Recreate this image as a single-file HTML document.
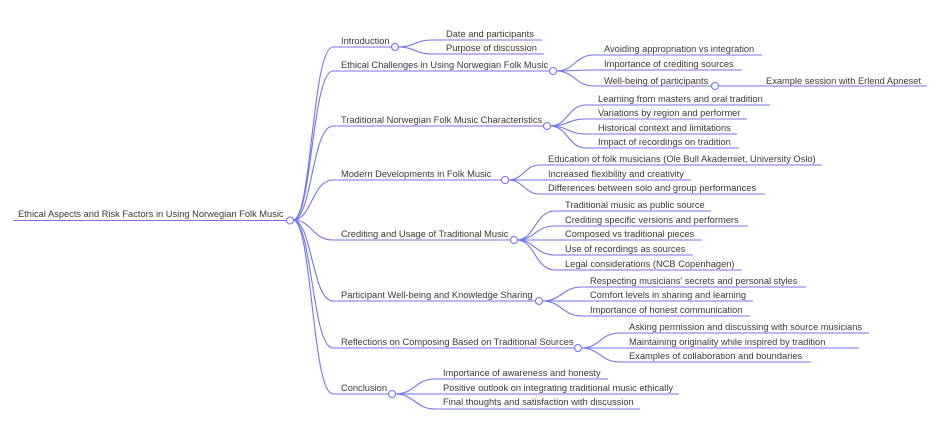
<!DOCTYPE html>
<html><head><meta charset="utf-8"><style>
html,body{margin:0;padding:0;background:#fff;}
svg{display:block;}
text{font-family:"Liberation Sans",Helvetica,Arial,sans-serif;font-size:9.3px;fill:#3a3a3a;}
path,line{stroke:#7373f2;stroke-width:1.1;fill:none;}
circle{stroke:#7373f2;stroke-width:1.1;fill:#fff;}
</style></head><body>
<svg width="941" height="443" viewBox="0 0 941 443" xmlns="http://www.w3.org/2000/svg">
<line x1="13" y1="220.5" x2="287" y2="220.5"/>
<text x="18" y="217">Ethical Aspects and Risk Factors in Using Norwegian Folk Music</text>
<path d="M293 220 C312 220 312 47 333 47 H395"/>
<path d="M293 220 C312 220 312 71 333 71 H553"/>
<path d="M293 220 C312 220 312 126 333 126 H547"/>
<path d="M293 220 C312 220 312 180 333 180 H505"/>
<path d="M293 220 C312 220 312 240 333 240 H514"/>
<path d="M293 220 C312 220 312 301 333 301 H539"/>
<path d="M293 220 C312 220 312 348 333 348 H578"/>
<path d="M293 220 C312 220 312 394 333 394 H392"/>
<circle cx="290" cy="220.5" r="3.5"/>
<text x="341" y="44">Introduction</text>
<text x="341" y="68">Ethical Challenges in Using Norwegian Folk Music</text>
<text x="341" y="123">Traditional Norwegian Folk Music Characteristics</text>
<text x="341" y="177">Modern Developments in Folk Music</text>
<text x="341" y="237">Crediting and Usage of Traditional Music</text>
<text x="341" y="298">Participant Well-being and Knowledge Sharing</text>
<text x="341" y="345">Reflections on Composing Based on Traditional Sources</text>
<text x="341" y="391">Conclusion</text>
<path d="M398 47 C415 47 415 40 432 40 H542"/>
<path d="M398 47 C415 47 415 54 432 54 H544"/>
<text x="446" y="37">Date and participants</text>
<text x="446" y="51">Purpose of discussion</text>
<circle cx="395" cy="47" r="3.5"/>
<path d="M556 71 C575 71 575 55 594 55 H762"/>
<path d="M556 71 C575 71 575 70 594 70 H742"/>
<path d="M556 71 C575 71 575 86 594 86 H712"/>
<path d="M718 86 H927"/>
<text x="604" y="52">Avoiding appropriation vs integration</text>
<text x="604" y="67">Importance of crediting sources</text>
<text x="604" y="84">Well-being of participants</text>
<text x="766" y="84">Example session with Erlend Apneset</text>
<circle cx="553" cy="71" r="3.5"/>
<circle cx="715" cy="86" r="3.5"/>
<path d="M550 126 C568 126 568 105 586 105 H770"/>
<path d="M550 126 C568 126 568 119 586 119 H747"/>
<path d="M550 126 C568 126 568 134 586 134 H737"/>
<path d="M550 126 C568 126 568 148 586 148 H739"/>
<text x="598" y="102">Learning from masters and oral tradition</text>
<text x="598" y="116">Variations by region and performer</text>
<text x="598" y="131">Historical context and limitations</text>
<text x="598" y="145">Impact of recordings on tradition</text>
<circle cx="547" cy="126" r="3.5"/>
<path d="M508 180 C524 180 524 165 540 165 H822"/>
<path d="M508 180 H691"/>
<path d="M508 180 C524 180 524 194 540 194 H765"/>
<text x="548" y="162">Education of folk musicians (Ole Bull Akademiet, University Oslo)</text>
<text x="548" y="177">Increased flexibility and creativity</text>
<text x="548" y="191">Differences between solo and group performances</text>
<circle cx="505" cy="180" r="3.5"/>
<path d="M517 240 C535 240 535 211 555 211 H711"/>
<path d="M517 240 C535 240 535 226 555 226 H748"/>
<path d="M517 240 H702"/>
<path d="M517 240 C535 240 535 255 555 255 H693"/>
<path d="M517 240 C535 240 535 270 555 270 H742"/>
<text x="565" y="208">Traditional music as public source</text>
<text x="565" y="223">Crediting specific versions and performers</text>
<text x="565" y="237">Composed vs traditional pieces</text>
<text x="565" y="252">Use of recordings as sources</text>
<text x="565" y="267">Legal considerations (NCB Copenhagen)</text>
<circle cx="514" cy="240" r="3.5"/>
<path d="M542 301 C562 301 562 287 582 287 H806"/>
<path d="M542 301 H753"/>
<path d="M542 301 C562 301 562 316 582 316 H750"/>
<text x="590" y="284">Respecting musicians' secrets and personal styles</text>
<text x="590" y="298">Comfort levels in sharing and learning</text>
<text x="590" y="313">Importance of honest communication</text>
<circle cx="539" cy="301" r="3.5"/>
<path d="M581 348 C600 348 600 333 620 333 H869"/>
<path d="M581 348 H859"/>
<path d="M581 348 C600 348 600 362 620 362 H811"/>
<text x="629" y="330">Asking permission and discussing with source musicians</text>
<text x="629" y="345">Maintaining originality while inspired by tradition</text>
<text x="629" y="359">Examples of collaboration and boundaries</text>
<circle cx="578" cy="348" r="3.5"/>
<path d="M395 394 C415 394 415 379 435 379 H608"/>
<path d="M395 394 H679"/>
<path d="M395 394 C415 394 415 409 435 409 H640"/>
<text x="443" y="376">Importance of awareness and honesty</text>
<text x="443" y="391">Positive outlook on integrating traditional music ethically</text>
<text x="443" y="405">Final thoughts and satisfaction with discussion</text>
<circle cx="392" cy="394" r="3.5"/>
</svg>
</body></html>
